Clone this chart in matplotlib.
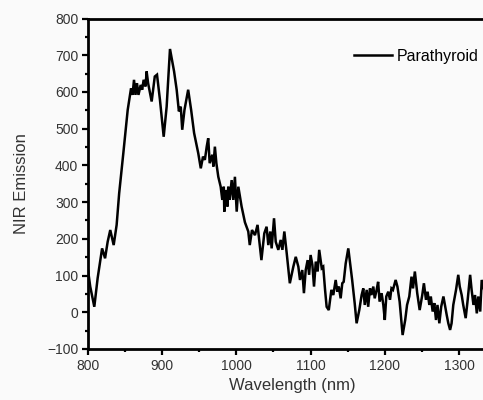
import matplotlib
matplotlib.use("Agg")
import matplotlib.pyplot as plt
from matplotlib.ticker import MultipleLocator

plt.rcParams['font.family'] = ['Liberation Sans', 'DejaVu Sans']

wavelength = [800, 803, 808.5, 813, 819, 823, 826.5, 830, 834.6, 838.6, 842, 847.6, 853.5, 858, 860,
              862, 864, 866, 868, 871, 873, 875, 877.6, 879, 881, 885.8, 890, 893, 897, 902,
              906, 910.5, 916, 919.5, 922.5, 925, 927, 930, 935, 939, 943, 948.6, 952, 955,
              957.5, 960, 962, 964, 967.5, 969, 971, 973, 975.6, 978.8, 981, 983, 983.7, 986,
              988, 989, 991, 993.6, 995.8, 998, 1000.4, 1002.6, 1007, 1011.5, 1016, 1018, 1021,
              1025, 1028.5, 1031.5, 1033.7, 1037.6, 1040.7, 1043, 1045.7, 1047.5, 1050.7, 1053,
              1056.5, 1059.7, 1062, 1064.6, 1067.8, 1072, 1076.7, 1080, 1083.5, 1085.7, 1088.8,
              1091, 1093.4, 1096, 1098, 1100, 1102.4, 1104.6, 1107, 1109.5, 1111.6, 1115, 1117,
              1119.5, 1121.6, 1124.5, 1128, 1130.6, 1133.8, 1136, 1138, 1140.5, 1142.7, 1144.6,
              1147.3, 1150.8, 1153, 1156, 1159.4, 1162, 1165.6, 1168.8, 1171, 1173, 1175.6,
              1177.6, 1180, 1182, 1184.5, 1186.4, 1189, 1191, 1193, 1195.7, 1198, 1200, 1202,
              1204.7, 1207, 1209, 1211, 1214.6, 1217, 1220, 1224, 1227.5, 1230, 1233, 1236, 1238,
              1240.5, 1243.7, 1247, 1250.5, 1252.7, 1255.5, 1257.7, 1260, 1262, 1264.5, 1266.7,
              1269, 1271, 1273.5, 1276, 1279, 1281, 1283.4, 1285.6, 1288, 1290, 1292.3, 1296,
              1299, 1301, 1303.6, 1305.7, 1309, 1311.7, 1315, 1317, 1319.5, 1321.6, 1324, 1326,
              1328.6, 1330.6, 1334, 1338]
emission = [115, 70, 15, 93, 174, 147, 192, 224, 183, 238, 324, 433, 551, 610, 592,
            633, 592, 624, 592, 619, 606, 633, 615, 656, 624, 574, 642, 647, 578, 478,
            560, 717, 656, 606, 547, 560, 497, 551, 606, 551, 488, 433, 392, 424,
            415, 451, 474, 406, 429, 397, 451, 406, 369, 342, 306, 342, 274, 333,
            288, 342, 306, 360, 306, 369, 274, 342, 288, 245, 220, 183, 224,
            210, 238, 183, 142, 215, 233, 183, 220, 174, 256, 192,
            170, 197, 170, 220, 161, 79, 124, 151, 124, 88, 115,
            52, 115, 142, 102, 156, 129, 70, 138, 111, 170, 120, 124,
            61, 15, 6, 61, 47, 88, 56, 70, 38, 79, 83,
            133, 174, 138, 88, 25, -30, 6, 47, 65, 20, 61,
            15, 65, 47, 70, 38, 61, 83, 29, 52, 20, -21, 43,
            56, 34, 65, 61, 88, 70, 29, -62, -21, 20, 43, 97, 65,
            111, 52, 6, 47, 79, 34, 56, 20, 43, 2, 25,
            -21, 20, -30, 15, 43, 20, -7, -30, -48, -30, 20, 61,
            102, 70, 47, 20, -16, 34, 102, 61, 20, 47, -3, 43,
            2, 88, 60, 40]

xticks = [800, 900, 1000, 1100, 1200, 1300]
yticks = [-100, 0, 100, 200, 300, 400, 500, 600, 700, 800]

W, H = 483, 400
fig = plt.figure(figsize=(W / 100, H / 100), dpi=100)
bg = '#fafafa'
fig.patch.set_facecolor(bg)

x0, x1 = 88, 88 + 550 * 0.742
y0, y1 = 349, 18.5
ax = fig.add_axes([x0 / W, 1 - y0 / H, (x1 - x0) / W, (y0 - y1) / H])
ax.set_facecolor(bg)

ax.plot(wavelength, emission, color='black', lw=1.8, label='Parathyroid',
        solid_joinstyle='miter')

ax.set_xticks(xticks)
ax.set_yticks(yticks)
ax.xaxis.set_minor_locator(MultipleLocator(50))
ax.yaxis.set_minor_locator(MultipleLocator(50))
ax.set_xlim(800, 1350)
ax.set_ylim(-100, 800)

for s in ['left', 'bottom', 'top', 'right']:
    ax.spines[s].set_linewidth(2.0)
ax.tick_params(which='major', direction='out', length=4, width=1.6, labelsize=10,
               labelcolor='#333333', pad=3)
ax.tick_params(which='minor', direction='out', length=2.5, width=1.6)
ax.tick_params(top=False, right=False)

ax.set_xlabel('Wavelength (nm)', fontsize=12, color='#333333', labelpad=4)
ax.set_ylabel('NIR Emission', fontsize=12, color='#333333', labelpad=13)

fig.legend(loc='center left', bbox_to_anchor=(354 / W, 1 - 56 / H),
           frameon=False, fontsize=11.5, handlelength=2.4, handletextpad=0.3,
           borderpad=0, borderaxespad=0)

fig.savefig('out.png', dpi=100, facecolor=bg)
